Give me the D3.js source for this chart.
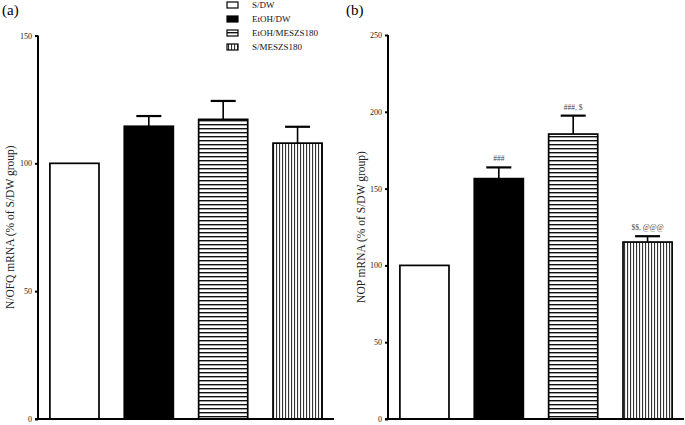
<!DOCTYPE html>
<html><head><meta charset="utf-8">
<script src="https://cdn.jsdelivr.net/npm/d3@7"></script>
<style>
body{margin:0;background:#fff;}
svg{display:block;font-family:"Liberation Serif","Times New Roman",serif;}
</style></head>
<body>
<svg id="chart" width="685" height="425"></svg>
<script>
const categories = ["S/DW", "EtOH/DW", "EtOH/MESZS180", "S/MESZS180"];
const nofqMean = [100, 114.5, 117.2, 107.9];
const nofqSem = [0, 4.0, 7.2, 6.4];
const nofqTicks = [0, 50, 100, 150];
const nopMean = [100, 156.5, 185.5, 115.2];
const nopSem = [0, 7.3, 12.0, 3.8];
const nopTicks = [0, 50, 100, 150, 200, 250];
const nopSig = ["", "###", "###, $", "$$, @@@"];

const svg = d3.select("#chart");
const defs = svg.append("defs");
const ph = defs.append("pattern").attr("id","hstripe").attr("patternUnits","userSpaceOnUse")
  .attr("width",8).attr("height",4);
ph.append("rect").attr("width",8).attr("height",4).attr("fill","#fff");
ph.append("rect").attr("y",0).attr("width",8).attr("height",1.4).attr("fill","#111");
const pv = defs.append("pattern").attr("id","vstripe").attr("patternUnits","userSpaceOnUse")
  .attr("width",3).attr("height",8);
pv.append("rect").attr("width",3).attr("height",8).attr("fill","#fff");
pv.append("rect").attr("x",0).attr("width",1.1).attr("height",8).attr("fill","#333");

const fills = ["#fff", "#000", "url(#hstripe)", "url(#vstripe)"];

function panel(opts){
  const g = svg.append("g");
  const y = d3.scaleLinear().domain([0, opts.max]).range([419, opts.top]);
  const x = d3.scaleBand().domain(categories).range([opts.axisX, opts.axisX + 296])
    .paddingInner(0.34).paddingOuter(0.16);
  g.selectAll("rect.bar").data(categories).join("rect")
    .attr("x", d => x(d)).attr("width", x.bandwidth())
    .attr("y", (d,i) => y(opts.mean[i])).attr("height", (d,i) => y(0) - y(opts.mean[i]))
    .attr("fill", (d,i) => fills[i]).attr("stroke","#000").attr("stroke-width",1.7);
  categories.forEach((c,i) => {
    if (!opts.sem[i]) return;
    const cx = x(c) + x.bandwidth()/2;
    g.append("line").attr("x1",cx).attr("x2",cx)
      .attr("y1",y(opts.mean[i])).attr("y2",y(opts.mean[i]+opts.sem[i]))
      .attr("stroke","#000").attr("stroke-width",1.6);
    g.append("line").attr("x1",cx-12.5).attr("x2",cx+12.5)
      .attr("y1",y(opts.mean[i]+opts.sem[i])).attr("y2",y(opts.mean[i]+opts.sem[i]))
      .attr("stroke","#000").attr("stroke-width",2.2);
    if (opts.sig && opts.sig[i]) {
      g.append("text").attr("x",cx).attr("y",y(opts.mean[i]+opts.sem[i]) - 6)
        .attr("text-anchor","middle").attr("font-size",7.5).attr("fill","#444")
        .text(opts.sig[i]);
    }
  });
  const ax = g.append("g").attr("transform",`translate(${opts.axisX},0)`)
    .call(d3.axisLeft(y).tickValues(opts.ticks).tickSize(3).tickPadding(3).tickFormat(d3.format("d")));
  ax.select(".domain").attr("stroke","#000").attr("stroke-width",2)
    .attr("d", `M0,${y(opts.max)}V${y(0)}`);
  ax.selectAll(".tick line").attr("stroke","#000").attr("stroke-width",2);
  ax.selectAll(".tick text").attr("font-size",8).attr("fill","#222")
    .attr("font-family","Liberation Serif, serif");
  g.append("line").attr("x1",opts.axisX-3).attr("x2",opts.axisX+296)
    .attr("y1",y(0)).attr("y2",y(0)).attr("stroke","#000").attr("stroke-width",2);
  g.append("text").attr("transform",`translate(${opts.titleX},${(y(0)+y(opts.max))/2}) rotate(-90)`)
    .attr("text-anchor","middle").attr("font-size",11.5).attr("fill","#222").text(opts.title);
  g.append("text").attr("x",opts.labelX).attr("y",15).attr("font-size",15).attr("fill","#000")
    .text(opts.label);
}

panel({axisX:38, top:35.5, max:150, ticks:nofqTicks, mean:nofqMean, sem:nofqSem,
  title:"N/OFQ mRNA (% of S/DW group)", titleX:14, labelX:2, label:"(a)"});
panel({axisX:388, top:35, max:250, ticks:nopTicks, mean:nopMean, sem:nopSem, sig:nopSig,
  title:"NOP mRNA (% of S/DW group)", titleX:365, labelX:346, label:"(b)"});

const leg = svg.append("g");
categories.forEach((c,i) => {
  const yy = 5 + i*14;
  leg.append("rect").attr("x",227).attr("y",yy-3).attr("width",11).attr("height",6)
    .attr("fill",fills[i]).attr("stroke","#000").attr("stroke-width",1.2);
  leg.append("text").attr("x",252).attr("y",yy+3).attr("font-size",9).attr("fill","#111").text(c);
});
</script>
</body></html>
